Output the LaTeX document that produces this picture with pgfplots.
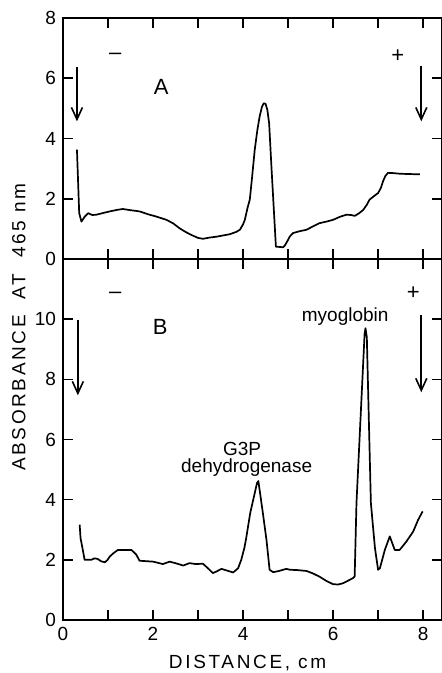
\documentclass[border=0pt]{standalone}
\usepackage{fontspec}
\setmainfont{Liberation Sans}
\newfontfamily\spacedfont[LetterSpace=14]{Liberation Sans}
\usepackage{pgfplots}
\pgfplotsset{compat=1.18}
\usetikzlibrary{arrows.meta}

\tikzset{
  arr/.style={line width=0.8pt, -{Straight Barb[length=6pt,width=5.5pt,line width=0.8pt]}},
}
\pgfplotsset{
  panel/.style={
    scale only axis, width=189.5pt, xmin=0, xmax=8.42,
    axis line style={line width=1pt},
    tick style={line width=0.8pt, black},
    major tick length=5pt,
    xtick={0,...,8},
    tick align=inside,
    ticklabel style={font=\fontsize{9.5}{11}\selectfont},
    /pgf/number format/assume math mode=true,
    clip=false,
  },
  curve/.style={line width=0.85pt, black, no markers, line join=round},
}

\begin{document}
\begin{tikzpicture}
\path[use as bounding box] (-31.5pt,-26.5pt) rectangle (189pt,310pt);
% ---------- bottom panel B ----------
\begin{axis}[panel, at={(0,0)}, anchor=south west, height=180.5pt,
  ymin=0, ymax=12, ytick={0,2,...,10}, xticklabels={0,,2,,4,,6,,8}]
\addplot[curve] coordinates {
(0.37,3.17)(0.39,2.72)(0.44,2.33)(0.48,2.00)(0.63,2.00)(0.70,2.05)(0.77,2.03)(0.85,1.95)
(0.93,1.92)(0.98,1.98)(1.04,2.11)(1.12,2.22)(1.22,2.33)(1.52,2.33)(1.63,2.17)(1.70,1.97)(2.00,1.94)
(2.22,1.86)(2.37,1.94)(2.52,1.88)(2.67,1.81)(2.81,1.89)(2.95,1.86)(3.11,1.87)(3.22,1.72)(3.33,1.56)
(3.42,1.62)(3.52,1.70)(3.65,1.64)(3.78,1.58)(3.89,1.72)(3.96,2.00)(4.03,2.40)(4.07,2.72)(4.16,3.56)(4.26,4.22)
(4.31,4.55)(4.34,4.62)(4.38,4.20)(4.44,3.56)(4.52,2.67)(4.59,1.67)(4.67,1.59)(4.80,1.63)(4.96,1.70)
(5.04,1.67)(5.20,1.66)(5.41,1.63)(5.55,1.55)(5.70,1.44)(5.85,1.30)(6.00,1.19)(6.11,1.18)(6.22,1.22)(6.44,1.39)(6.48,1.45)
(6.52,3.89)(6.70,9.50)(6.72,9.70)(6.75,9.40)(6.84,3.89)(6.93,2.40)(7.00,1.67)
(7.04,1.72)(7.10,2.05)(7.15,2.33)(7.26,2.78)(7.37,2.33)(7.48,2.33)(7.63,2.61)(7.78,2.94)
(7.89,3.33)(7.99,3.61)
};
\draw[arr] (axis cs:0.33,9.97) -- (axis cs:0.33,7.47);
\draw[arr] (axis cs:7.96,10.13) -- (axis cs:7.96,7.57);
\node[font=\fontsize{11}{13}\selectfont] at (axis cs:1.16,10.8) {\textendash};
\node[font=\fontsize{11}{13}\selectfont] at (axis cs:7.78,10.85) {+};
\node[font=\fontsize{11}{13}\selectfont] at (axis cs:2.16,9.73) {B};
\node[font=\fontsize{9.5}{11}\selectfont] at (axis cs:6.27,10.1) {myoglobin};
\node[font=\fontsize{9.5}{11}\selectfont] at (axis cs:3.98,5.67) {G3P};
\node[font=\fontsize{9.5}{11}\selectfont] at (axis cs:4.08,5.07) {dehydrogenase};
\node[anchor=base, font=\spacedfont\fontsize{9.5}{11}\selectfont] at (axis cs:4.1,-1.6) {DISTANCE, cm};
\node[rotate=90, font=\spacedfont\fontsize{9.5}{11}\selectfont] at (axis cs:-0.98,9.73) {ABSORBANCE\hspace{4pt} AT\hspace{4pt} 465 nm};
\end{axis}
% ---------- top panel A ----------
\begin{axis}[panel, at={(0,180.5pt)}, anchor=south west, height=120.5pt,
  ymin=0, ymax=8, ytick={0,2,...,8}, xticklabels={}]
\addplot[curve] coordinates {
(0.31,3.63)(0.36,1.52)(0.41,1.24)(0.48,1.40)(0.56,1.52)(0.65,1.46)(0.74,1.47)(0.90,1.53)(1.04,1.58)(1.20,1.63)(1.33,1.66)
(1.50,1.62)(1.70,1.58)(1.90,1.48)(2.07,1.41)(2.30,1.30)(2.45,1.18)(2.59,1.02)(2.72,0.90)(2.85,0.80)(3.00,0.70)(3.11,0.67)(3.25,0.71)(3.41,0.74)
(3.55,0.78)(3.70,0.82)(3.85,0.90)(3.93,0.97)(4.00,1.15)(4.04,1.30)(4.10,1.70)(4.15,1.97)(4.20,2.70)(4.26,3.63)(4.32,4.30)(4.37,4.74)(4.42,5.05)(4.46,5.17)(4.50,5.15)
(4.54,4.95)(4.58,4.50)(4.63,3.08)(4.73,0.41)(4.89,0.39)(4.93,0.45)(4.98,0.58)(5.04,0.75)(5.11,0.86)(5.25,0.92)(5.41,0.97)
(5.55,1.08)(5.70,1.19)(5.85,1.24)(6.00,1.30)(6.15,1.40)(6.30,1.47)(6.40,1.46)(6.48,1.43)(6.58,1.52)(6.67,1.63)(6.75,1.80)(6.81,1.97)(6.92,2.10)(7.00,2.19)
(7.06,2.35)(7.11,2.58)(7.16,2.75)(7.22,2.86)(7.35,2.85)(7.48,2.83)(7.70,2.82)(7.93,2.81)
};
\draw[arr] (axis cs:0.31,6.37) -- (axis cs:0.31,4.57);
\draw[arr] (axis cs:7.96,6.4) -- (axis cs:7.96,4.57);
\node[font=\fontsize{11}{13}\selectfont] at (axis cs:1.16,6.73) {\textendash};
\node[font=\fontsize{11}{13}\selectfont] at (axis cs:7.44,6.73) {+};
\node[font=\fontsize{11}{13}\selectfont] at (axis cs:2.18,5.7) {A};
\end{axis}
\end{tikzpicture}
\end{document}
